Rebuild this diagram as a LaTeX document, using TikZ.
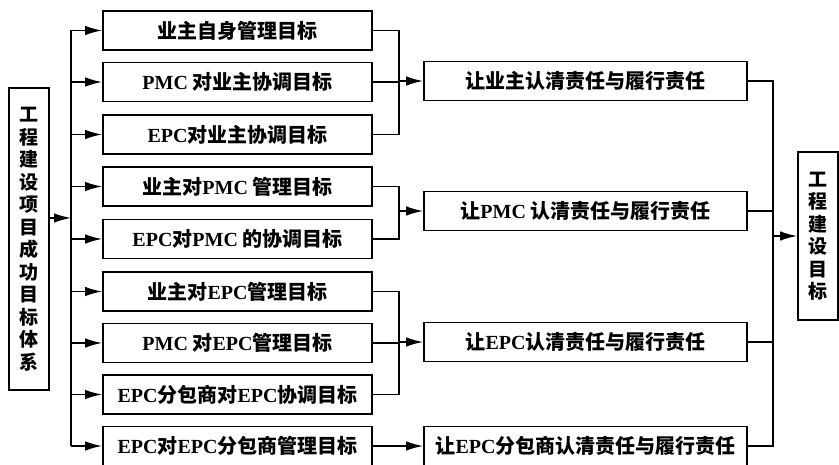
\documentclass[tikz,border=0pt]{standalone}
\usepackage{fontspec}
\setmainfont{Liberation Serif}
\newfontfamily\cjk{Noto Sans CJK SC}
\newfontfamily\latf{Liberation Serif}
\newcommand\ltn[1]{{\latf\bfseries #1}}
\usetikzlibrary{arrows.meta}
\begin{document}
\begin{tikzpicture}[x=1pt,y=-1pt,
  line width=1.6pt,
  box/.style={draw,line width=1.8pt,minimum height=39pt,inner sep=0pt,
    font=\cjk\bfseries\fontsize{20}{22}\selectfont},
  mid/.style={box,minimum width=269pt},
  res/.style={box,minimum width=323pt},
  vbox/.style={draw,line width=1.8pt,minimum width=40pt,inner sep=0pt,align=center,
    font=\cjk\bfseries\fontsize{19}{22.5}\selectfont},
  arr/.style={-{Latex[length=17pt,width=9.5pt]}}]
\useasboundingbox (0,0) rectangle (839,465);
% left and right boxes
\node[vbox,minimum height=302pt] (L) at (29,239) {工\\程\\建\\设\\项\\目\\成\\功\\目\\标\\体\\系};
\node[vbox,minimum height=168pt] (R) at (818,236) {工\\程\\建\\设\\目\\标};
% middle boxes
\node[mid] (m1) at (237.5,30.5) {业主自身管理目标};
\node[mid] (m2) at (237.5,82) {\ltn{PMC} 对业主协调目标};
\node[mid] (m3) at (237.5,134.5) {\ltn{EPC}对业主协调目标};
\node[mid] (m4) at (237.5,186.5) {业主对\ltn{PMC} 管理目标};
\node[mid] (m5) at (237.5,239) {\ltn{EPC}对\ltn{PMC} 的协调目标};
\node[mid] (m6) at (237.5,291.5) {业主对\ltn{EPC}管理目标};
\node[mid] (m7) at (237.5,343) {\ltn{PMC} 对\ltn{EPC}管理目标};
\node[mid] (m8) at (237.5,394.5) {\ltn{EPC}分包商对\ltn{EPC}协调目标};
\node[mid] (m9) at (237.5,446) {\ltn{EPC}对\ltn{EPC}分包商管理目标};
% result boxes
\node[res] (r1) at (585.5,81) {让业主认清责任与履行责任};
\node[res] (r2) at (585.5,211) {让\ltn{PMC} 认清责任与履行责任};
\node[res] (r3) at (585.5,342) {让\ltn{EPC}认清责任与履行责任};
\node[res] (r4) at (585.5,446) {让\ltn{EPC}分包商认清责任与履行责任};
% coordinates
\coordinate (bl) at (71,218);
\coordinate (bt) at (71,30.5);
\coordinate (bb) at (71,446);
\coordinate (g1) at (399,81);
\coordinate (g2) at (399,211);
\coordinate (g3) at (399,342);
\coordinate (rb) at (773,236);
% left bus
\draw[arr] (L.east |- bl) -- (bl);
\draw (bt) -- (bb);
\foreach \m in {m1,m2,m3,m4,m5,m6,m7,m8,m9}{
  \draw[arr] (bt |- \m.west) -- (\m.west);
}
% group 1
\draw (m1.east) -| (g1) |- (m3.east);
\draw (m2.east) -- (g1 |- m2.east);
\draw[arr] (g1) -- (r1.west);
% group 2
\draw (m4.east) -| (g2) |- (m5.east);
\draw[arr] (g2) -- (r2.west);
% group 3
\draw (m6.east) -| (g3) |- (m8.east);
\draw (m7.east) -- (g3 |- m7.east);
\draw[arr] (g3) -- (r3.west);
% single
\draw[arr] (m9.east) -- (r4.west);
% right bus
\draw (r1.east) -| (rb |- r4.east) -- (r4.east);
\draw (r2.east) -- (rb |- r2.east);
\draw (r3.east) -- (rb |- r3.east);
\draw[arr] (rb) -- (R.west |- rb);
\end{tikzpicture}
\end{document}
